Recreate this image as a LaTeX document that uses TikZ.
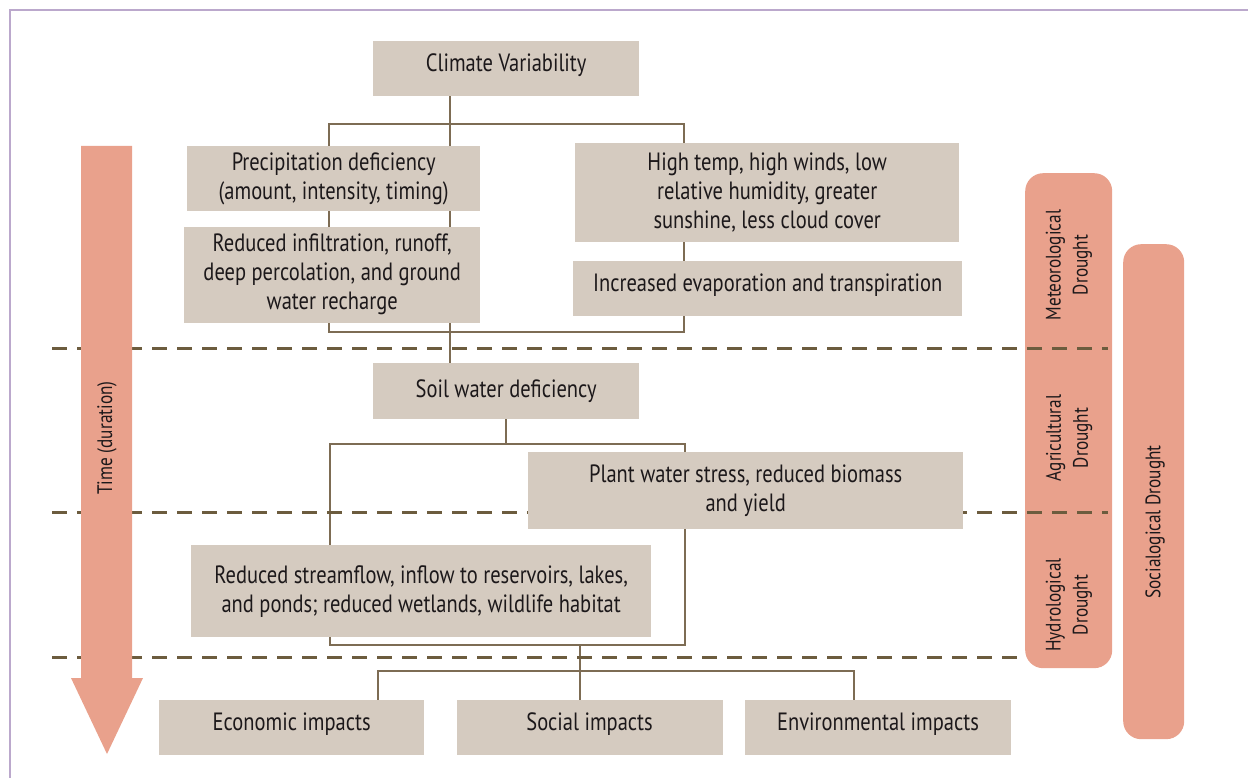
\documentclass[tikz,border=0pt]{standalone}
\usepackage{fontspec}
\setmainfont{PT Sans}[FakeStretch=0.82]
\usetikzlibrary{positioning}
\pgfdeclarelayer{back}
\pgfdeclarelayer{mid}
\pgfsetlayers{back,mid,main}
\definecolor{boxfill}{RGB}{213,203,192}
\definecolor{pillfill}{RGB}{233,161,140}
\definecolor{linkbrown}{RGB}{125,108,84}
\definecolor{dashbrown}{RGB}{108,92,62}
\definecolor{framelilac}{RGB}{187,168,204}
\definecolor{inktext}{RGB}{28,24,26}
\tikzset{
  cbox/.style={fill=boxfill, inner sep=0pt, anchor=north west, align=center,
    text=inktext, font=\fontsize{25}{29}\selectfont},
  oneline/.style={text height=17pt, text depth=12pt},
  link/.style={draw=linkbrown, line width=1.6pt},
  stage/.style={draw=dashbrown, line width=3pt, dash pattern=on 15pt off 10pt},
  pill/.style={fill=pillfill, rounded corners=18pt, inner sep=0pt, anchor=north west},
  plabel/.style={rotate=90, align=center, text=inktext, font=\fontsize{21}{27}\selectfont},
}

\begin{document}
\begin{tikzpicture}[x=1pt, y=-1pt]
  \useasboundingbox (0,0) rectangle (1248,778);
  \draw[framelilac, line width=2pt] (1248,10) -- (10,10) -- (10,778);

  \node[cbox, oneline, minimum width=266pt, minimum height=55pt] (clim) at (373,41) {Climate Variability};
  \node[cbox, minimum width=293pt, minimum height=65pt] (precip) at (187,146)
    {Precipitation deficiency\\(amount, intensity, timing)};
  \node[cbox, minimum width=296pt, minimum height=96pt] (infil)
    [below=15pt of precip.south east, anchor=north east]
    {Reduced infiltration, runoff,\\deep percolation, and ground\\water recharge};
  \node[cbox, minimum width=384pt, minimum height=99pt] (temp) at (575,143)
    {High temp, high winds, low\\relative humidity, greater\\sunshine, less cloud cover};
  \node[cbox, oneline, minimum width=389pt, minimum height=55pt] (evap) at (573,261)
    {Increased evaporation and transpiration};
  \node[cbox, minimum width=266pt, minimum height=56pt] (soil) at (373,363) {Soil water deficiency};
  \node[cbox, minimum width=435pt, minimum height=77pt] (plant) at (528,452)
    {Plant water stress, reduced biomass\\and yield};
  \node[cbox, minimum width=460pt, minimum height=92pt] (stream) at (191,545)
    {Reduced streamflow, inflow to reservoirs, lakes,\\and ponds; reduced wetlands, wildlife habitat};
  \node[cbox, oneline, minimum width=265pt, minimum height=55pt] (econ) at (159,700) {Economic impacts};
  \node[cbox, oneline, minimum width=266pt, minimum height=55pt, anchor=west] (soc)
    [right=32pt of econ.east] {Social impacts};
  \node[cbox, oneline, minimum width=266pt, minimum height=55pt, anchor=west] (env)
    [right=22pt of soc.east] {Environmental impacts};

  \begin{pgfonlayer}{back}
    \node[pill, minimum width=87pt, minimum height=495pt] (met) at (1025,173) {};
    \node[pill, minimum width=61pt, minimum height=495pt] (socio) at (1123,244) {};
  \end{pgfonlayer}
  \node[plabel] (metlab) at (1069,265) {Meteorological\\Drought};
  \node[plabel] (agrilab) at (1069,438) {Agricultural\\Drought};
  \node[plabel] (hydrolab) at (1069,605) {Hydrological\\Drought};
  \node[plabel] (sociolab) at (1155,522) {Socialogical Drought};

  \fill[pillfill] (81,146) -- (132,146) -- (132,678) -- (143,678) -- (107,754)
    -- (71,678) -- (81,678) -- cycle;
  \node[plabel] (time) at (107,438) {Time (duration)};

  \coordinate (b1) at (329,124);
  \coordinate (b2) at (684,332);
  \coordinate (b3) at (330,444);
  \coordinate (b4) at (685,645);
  \coordinate (b5) at (378,671);
  \coordinate (b6) at (854,671);
  \coordinate (sp) at (450,0);
  \coordinate (sq) at (580,0);

  \begin{pgfonlayer}{mid}
    \draw[link] (b1) rectangle (b2);
    \draw[link] (clim.south -| sp) -- (soil.north -| sp);
    \draw[link] (b3) rectangle (b4);
    \draw[link] (soil.south) -- (soil.south |- b3);
    \draw[link] (b4 -| sq) -- (soc.north -| sq);
    \draw[link] (econ.north -| b5) -- (b5) -- (b6) -- (env.north -| b6);
    \draw[stage] (52,348) -- (1108,348);
    \draw[stage] (52,512) -- (1108,512);
    \draw[stage] (52,657) -- (met.west |- 0,657);
  \end{pgfonlayer}
\end{tikzpicture}
\end{document}
